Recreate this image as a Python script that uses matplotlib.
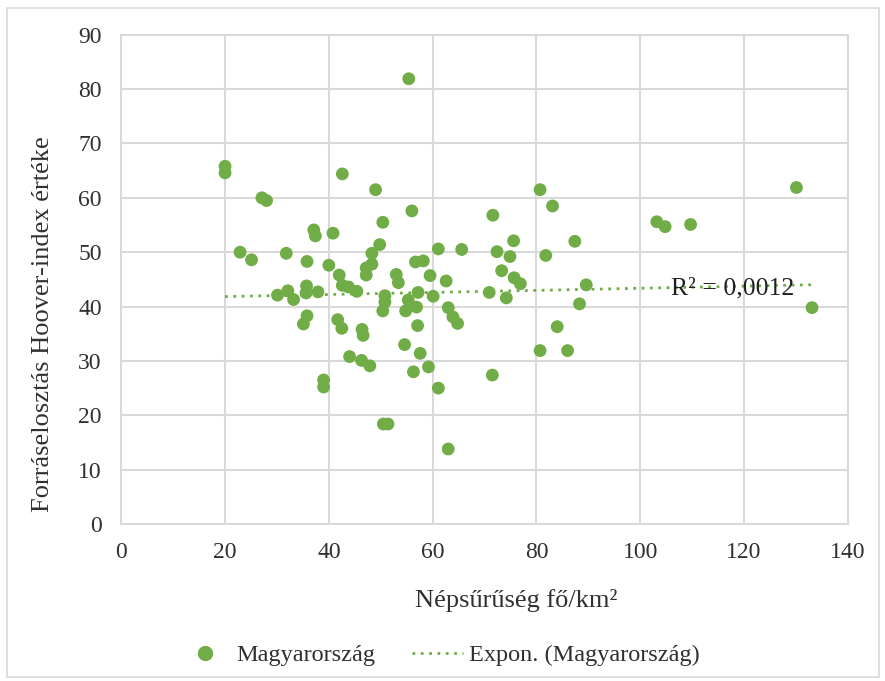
import matplotlib.pyplot as plt
import numpy as np
from matplotlib.patches import Rectangle
from matplotlib.lines import Line2D

plt.rcParams['font.family'] = ['Liberation Serif', 'DejaVu Serif']

# population density (fő/km2) and Hoover index
density = [20.0, 20.0, 27.1, 28.0, 22.9, 25.1, 31.8, 30.1, 32.1, 33.2,
           35.8, 35.7, 35.6, 35.1, 35.8, 37.1, 37.4, 37.9, 40.8, 40.0,
           39.0, 39.0, 42.6, 41.7, 42.5, 42.0, 42.6, 43.8, 44.0, 45.4,
           46.3, 46.4, 46.6, 47.2, 47.2, 48.3, 48.3, 47.9, 49.0, 49.8,
           50.4, 50.4, 50.8, 50.8, 50.5, 51.4, 53.0, 53.4, 54.6, 55.4,
           54.8, 55.3, 56.0, 56.3, 56.7, 56.9, 57.1, 57.2, 57.6, 58.2,
           59.2, 59.5, 60.1, 61.1, 61.1, 62.6, 63.0, 63.0, 63.9, 64.8,
           65.6, 70.9, 71.6, 71.5, 72.4, 73.3, 74.2, 74.9, 75.6, 75.7,
           76.9, 80.7, 80.7, 81.8, 83.1, 84.0, 86.0, 87.4, 88.3, 89.6,
           103.2, 104.8, 109.7, 130.1, 133.1]
hoover = [65.8, 64.6, 60.0, 59.5, 50.0, 48.6, 49.8, 42.1, 42.9, 41.3,
          48.3, 43.8, 42.5, 36.8, 38.3, 54.1, 53.0, 42.7, 53.5, 47.6,
          26.5, 25.2, 64.4, 37.6, 36.0, 45.8, 43.9, 43.6, 30.8, 42.8,
          30.1, 35.8, 34.7, 47.1, 45.8, 47.8, 49.8, 29.1, 61.5, 51.4,
          55.5, 39.2, 42.0, 40.8, 18.4, 18.4, 45.9, 44.4, 33.0, 81.9,
          39.2, 41.2, 57.6, 28.0, 48.2, 39.9, 36.5, 42.6, 31.4, 48.4,
          28.9, 45.7, 41.9, 50.6, 25.0, 44.7, 39.8, 13.8, 38.1, 36.9,
          50.5, 42.6, 56.8, 27.4, 50.1, 46.6, 41.6, 49.2, 52.1, 45.3,
          44.2, 61.5, 31.9, 49.4, 58.5, 36.3, 31.9, 52.0, 40.5, 44.0,
          55.6, 54.7, 55.1, 61.9, 39.8]

green = '#70AD47'
grid = '#D9D9D9'
txt = '#303030'

x = np.array(density)
y = np.array(hoover)

# exponential trendline like Excel (fit on ln y)
b, ln_a = np.polyfit(x, np.log(y), 1)
xt = np.linspace(x.min(), x.max(), 200)
yt = np.exp(ln_a) * np.exp(b * xt)

fig = plt.figure(figsize=(8.85, 6.81), dpi=100)
ax = fig.add_axes([0.137, 0.2305, 0.821, 0.7185])

ax.scatter(x, y, s=85, color=green, edgecolors='none', zorder=3)
ax.plot(xt, yt, linestyle=(0, (1, 2)), color=green, linewidth=2, zorder=2)
ax.text(105.9, 43.4, 'R² = 0,0012', fontsize=18.5, va='center', ha='left',
        color='#202020', zorder=4)

ax.set_xlim(0, 140)
ax.set_ylim(0, 90)
ax.set_xticks(range(0, 141, 20))
ax.set_yticks(range(0, 91, 10))
ax.grid(True, color=grid, linewidth=1.5)
ax.set_axisbelow(True)
for s in ax.spines.values():
    s.set_color(grid)
    s.set_linewidth(1.5)
ax.tick_params(length=0, labelsize=17, colors=txt)
ax.tick_params(axis='y', pad=14)
ax.tick_params(axis='x', pad=13)

ax.set_xlabel('Népsűrűség fő/km²', fontsize=19, color=txt)
ax.set_ylabel('Forráselosztás Hoover-index értéke', fontsize=19, color=txt)
ax.xaxis.set_label_coords(0.543, -0.133)
ax.yaxis.set_label_coords(-0.092, 0.409)

handles = [Line2D([], [], marker='o', linestyle='none', color=green, markersize=10),
           Line2D([], [], linestyle=(0, (1, 2)), color=green, linewidth=2)]
fig.legend(handles, ['Magyarország', 'Expon. (Magyarország)'], loc='center',
           bbox_to_anchor=(0.497, 0.038), ncol=2, frameon=False, fontsize=17.5,
           handlelength=2.1, handletextpad=0.25, columnspacing=1.5, labelcolor=txt)

fig.patches.append(Rectangle((0.008, 0.006), 0.985, 0.982, transform=fig.transFigure,
                             fill=False, edgecolor=grid, linewidth=1.2))

fig.savefig('out.png', dpi=100)
